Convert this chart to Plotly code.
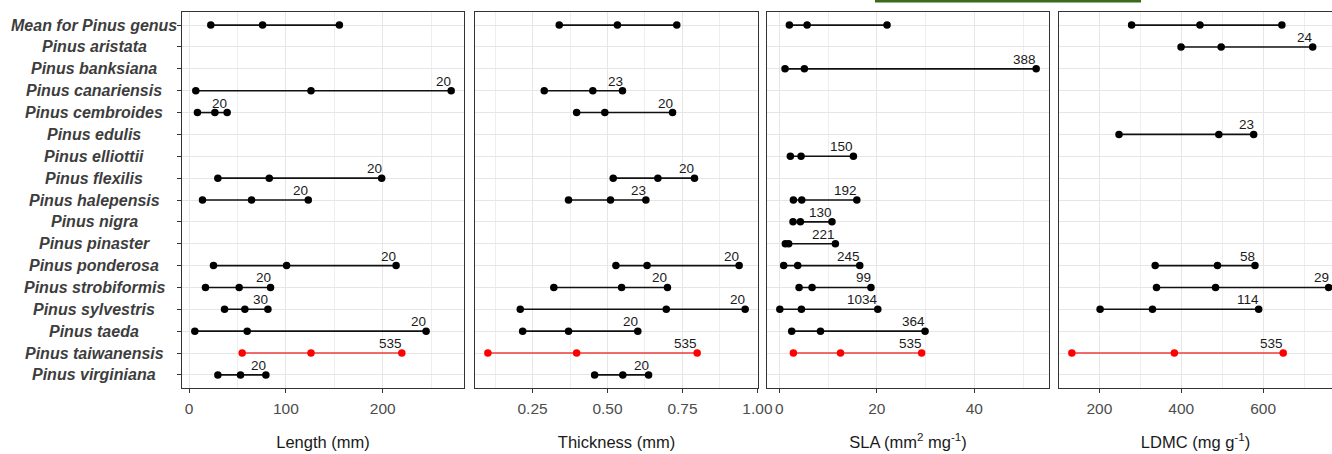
import plotly.graph_objects as go

W, H = 1332, 454
MT, MB = 12, 66

species = ["Mean for Pinus genus", "Pinus aristata", "Pinus banksiana", "Pinus canariensis",
           "Pinus cembroides", "Pinus edulis", "Pinus elliottii", "Pinus flexilis",
           "Pinus halepensis", "Pinus nigra", "Pinus pinaster", "Pinus ponderosa",
           "Pinus strobiformis", "Pinus sylvestris", "Pinus taeda", "Pinus taiwanensis",
           "Pinus virginiana"]
highlight = "Pinus taiwanensis"

N = None
# Length (mm)
length_lo  = [22.4, N, N, 6.9, 8.6, N, N, 29.7, 13.8, N, N, 25.2, 16.9, 36.6, 5.9, 54.8, 29.7]
length_mid = [75.9, N, N, 125.9, 26.6, N, N, 82.8, 64.5, N, N, 100.7, 51.7, 57.6, 60.0, 125.9, 53.1]
length_hi  = [155.2, N, N, 270.7, 39.3, N, N, 198.9, 123.1, N, N, 213.8, 84.1, 81.4, 244.8, 219.7, 79.3]
length_n   = ["", "", "", "20", "20", "", "", "20", "20", "", "", "20", "20", "30", "20", "535", "20"]

# Thickness (mm)
thick_lo  = [0.339, N, N, 0.289, 0.397, N, N, 0.519, 0.370, N, N, 0.528, 0.321, 0.209, 0.217, 0.101, 0.457]
thick_mid = [0.533, N, N, 0.451, 0.491, N, N, 0.668, 0.510, N, N, 0.632, 0.547, 0.696, 0.370, 0.397, 0.551]
thick_hi  = [0.731, N, N, 0.550, 0.717, N, N, 0.790, 0.628, N, N, 0.939, 0.700, 0.959, 0.601, 0.799, 0.637]
thick_n   = ["", "", "", "23", "20", "", "", "20", "23", "", "", "20", "20", "20", "20", "535", "20"]

# SLA (mm2 mg-1)
sla_lo  = [2.06, N, 1.17, N, N, N, 2.26, N, 2.88, 2.81, 1.23, 0.89, 4.05, 0.1, 2.54, 2.88, N]
sla_mid = [5.7, N, 5.14, N, N, N, 4.46, N, 4.6, 4.32, 1.92, 3.77, 6.72, 4.53, 8.44, 12.55, N]
sla_hi  = [22.1, N, 52.7, N, N, N, 15.2, N, 15.9, 10.8, 11.5, 16.5, 18.8, 20.2, 29.9, 29.2, N]
sla_n   = ["", "", "388", "", "", "", "150", "", "192", "130", "221", "245", "99", "1034", "364", "535", ""]

# LDMC (mg g-1)
ldmc_lo  = [278.6, 399.4, N, N, N, 247.8, N, N, N, N, N, 336.2, 339.4, 201.6, N, 132.6, N]
ldmc_mid = [445.6, 497.4, N, N, N, 491.7, N, N, N, N, N, 488.4, 483.7, 329.6, N, 383.0, N]
ldmc_hi  = [645.7, 721.0, N, N, N, 576.8, N, N, N, N, N, 580.0, 760.0, 589.0, N, 649.0, N]
ldmc_n   = ["", "24", "", "", "", "23", "", "", "", "", "", "58", "29", "114", "", "535", ""]

panels = [
    dict(lo=length_lo, mid=length_mid, hi=length_hi, n=length_n, title="Length (mm)",
         px=(182, 464), full=282, ticks=[0, 100, 200], minor=[50, 150, 250], fmt=None),
    dict(lo=thick_lo, mid=thick_mid, hi=thick_hi, n=thick_n, title="Thickness (mm)",
         px=(475, 758), full=283, ticks=[0.25, 0.5, 0.75, 1.0], minor=[0.125, 0.375, 0.625, 0.875], fmt=".2f"),
    dict(lo=sla_lo, mid=sla_mid, hi=sla_hi, n=sla_n, title="SLA (mm<sup>2</sup> mg<sup>-1</sup>)",
         px=(767, 1049), full=282, ticks=[0, 20, 40], minor=[10, 30, 50], fmt=None),
    dict(lo=ldmc_lo, mid=ldmc_mid, hi=ldmc_hi, n=ldmc_n, title="LDMC (mg g<sup>-1</sup>)",
         px=(1059, 1332), full=282.5, ticks=[200, 400, 600], minor=[300, 500, 700], fmt=None),
]

FONT = "Liberation Sans, Arial, sans-serif"
fig = go.Figure()
annotations = []
layout = {}

for i, p in enumerate(panels, start=1):
    xa = "x" if i == 1 else f"x{i}"
    ya = "y" if i == 1 else f"y{i}"
    vals = [v for v in p["lo"] + p["hi"] if v is not None]
    vmin, vmax = min(vals), max(vals)
    e = 0.05 * (vmax - vmin)
    r0, r1 = vmin - e, vmax + e
    width_px = p["px"][1] - p["px"][0]
    r1 = r0 + (r1 - r0) * width_px / p["full"] if width_px < p["full"] else r1

    for k, sp in enumerate(species):
        if p["lo"][k] is None:
            continue
        red = sp == highlight
        fig.add_trace(go.Scatter(
            x=[p["lo"][k], p["mid"][k], p["hi"][k]], y=[sp] * 3,
            mode="lines+markers",
            line=dict(color="#f03c3c" if red else "#111111", width=1.6),
            marker=dict(color="#ff0000" if red else "#000000", size=7.5),
            xaxis=xa, yaxis=ya, showlegend=False, hoverinfo="x+y"))
        if p["n"][k]:
            annotations.append(dict(
                x=p["hi"][k], y=sp, xref=xa, yref=ya, text=p["n"][k], showarrow=False,
                xanchor="right", yanchor="bottom", xshift=2, yshift=0,
                font=dict(family=FONT, size=13.5, color="#1a1a1a")))

    xkey = "xaxis" if i == 1 else f"xaxis{i}"
    ykey = "yaxis" if i == 1 else f"yaxis{i}"
    layout[xkey] = dict(
        domain=[p["px"][0] / W, p["px"][1] / W], anchor=ya, range=[r0, r1],
        tickvals=p["ticks"], tickformat=p["fmt"],
        showgrid=True, gridcolor="#e6e6e6", gridwidth=1.2,
        minor=dict(tickvals=p["minor"], showgrid=True, gridcolor="#eeeeee", gridwidth=1),
        showline=True, mirror=True, linecolor="#333333", linewidth=1.2,
        ticks="outside", ticklen=4, tickcolor="#333333", tickwidth=1,
        ticklabelstandoff=2,
        tickfont=dict(family=FONT, size=15.5, color="#4d4d4d"),
        title=dict(text=p["title"], font=dict(family=FONT, size=16.5, color="#1a1a1a"), standoff=20),
        zeroline=False, automargin=False, fixedrange=True)
    layout[ykey] = dict(
        domain=[0, 1], anchor=xa, type="category", categoryorder="array", categoryarray=species,
        range=[len(species) - 0.4, -0.6],
        showticklabels=False, showgrid=True, gridcolor="#e6e6e6", gridwidth=1.2,
        showline=True, mirror=(i != 4), linecolor="#333333", linewidth=1.2,
        ticks="outside" if i == 1 else "", ticklen=4, tickcolor="#333333",
        zeroline=False, automargin=False, fixedrange=True)
    if i > 1:
        layout[ykey]["matches"] = "y"

# centered species labels
for sp in species:
    annotations.append(dict(
        x=94 / W, xref="paper", y=sp, yref="y", text=f"<b><i>{sp}</i></b>", showarrow=False,
        xanchor="center", yanchor="middle",
        font=dict(family=FONT, size=16, color="#3d3d3d")))

fig.update_layout(
    width=W, height=H,
    margin=dict(l=0, r=0, t=MT, b=MB, pad=0),
    paper_bgcolor="white", plot_bgcolor="white",
    annotations=annotations,
    shapes=[dict(type="rect", xref="paper", yref="paper",
                 x0=875 / W, x1=1141 / W,
                 y0=(H - MB - 2.5) / (H - MT - MB), y1=(H - MB + 1) / (H - MT - MB),
                 fillcolor="#3a6b1c", line=dict(width=0), layer="above")],
    **layout)

fig.write_html("out.html", config={"displayModeBar": False},
               post_script="document.body.style.margin='0px';")
